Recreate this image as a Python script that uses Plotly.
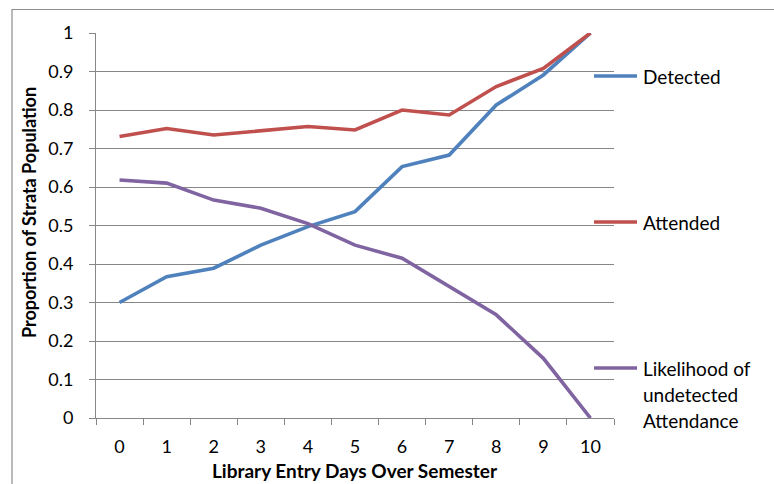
import plotly.graph_objects as go

# Library entry days (categories) and proportion of each stratum
days = [str(d) for d in range(11)]
detected = [0.300, 0.367, 0.389, 0.449, 0.497, 0.536, 0.653, 0.683, 0.813, 0.891, 1.0]
attended = [0.731, 0.752, 0.735, 0.746, 0.757, 0.748, 0.800, 0.787, 0.861, 0.908, 1.0]
likelihood = [0.618, 0.610, 0.566, 0.545, 0.505, 0.449, 0.415, 0.341, 0.268, 0.155, 0.0]

series_names = ["Detected", "Attended", "Likelihood of undetected Attendance"]
legend_lines = [["Detected"], ["Attended"], ["Likelihood of", "undetected", "Attendance"]]
series_colors = ["#4F81BD", "#C0504D", "#8064A2"]
y_ticks = [round(i * 0.1, 1) for i in range(11)]

FONT = "Lato, Carlito, Calibri, sans-serif"
W, H = 774, 484
L, R, T, B = 96, 160, 33, 66
plot_w = W - L - R
plot_h = H - T - B


def px_to_paper_x(px):
    return (px - L) / plot_w


def px_to_paper_y(py):
    return (H - B - py) / plot_h


fig = go.Figure()
for name, vals, col in zip(series_names, [detected, attended, likelihood], series_colors):
    fig.add_trace(go.Scatter(
        x=days, y=vals, mode="lines", name=name,
        line=dict(color=col, width=3.6), showlegend=False,
    ))

# Legend drawn beside the plot, one key per series
legend_y = [76, 222, 368]
line_gap = 26.5
shapes = []
annotations = []
for lines, col, ly in zip(legend_lines, series_colors, legend_y):
    shapes.append(dict(
        type="line", xref="paper", yref="paper",
        x0=px_to_paper_x(594), x1=px_to_paper_x(637),
        y0=px_to_paper_y(ly), y1=px_to_paper_y(ly),
        line=dict(color=col, width=3.6),
    ))
    for i, txt in enumerate(lines):
        annotations.append(dict(
            xref="paper", yref="paper",
            x=px_to_paper_x(641), y=px_to_paper_y(ly + i * line_gap),
            xanchor="left", yanchor="middle", align="left",
            text=txt, showarrow=False,
            font=dict(family=FONT, size=19, color="#000000"),
        ))

# Axis titles
annotations.append(dict(
    xref="paper", yref="paper",
    x=px_to_paper_x(355), y=px_to_paper_y(470),
    xanchor="center", yanchor="middle", showarrow=False,
    text="<b>Library Entry Days Over Semester</b>",
    font=dict(family=FONT, size=19, color="#000000"),
))
annotations.append(dict(
    xref="paper", yref="paper",
    x=px_to_paper_x(29), y=px_to_paper_y(213),
    xanchor="center", yanchor="middle", showarrow=False, textangle=-90,
    text="<b>Proportion of Strata Population</b>",
    font=dict(family=FONT, size=18, color="#000000"),
))

# Chart frame
shapes.append(dict(
    type="rect", xref="paper", yref="paper",
    x0=px_to_paper_x(12), x1=px_to_paper_x(790),
    y0=px_to_paper_y(500), y1=px_to_paper_y(9.5),
    line=dict(color="#8C8C8C", width=1.2), fillcolor="rgba(0,0,0,0)",
    layer="below",
))

fig.update_layout(
    width=W, height=H,
    margin=dict(l=L, r=R, t=T, b=B),
    paper_bgcolor="white", plot_bgcolor="white",
    font=dict(family=FONT, size=18, color="#000000"),
    shapes=shapes, annotations=annotations,
    xaxis=dict(
        type="category", tickson="boundaries",
        ticks="outside", ticklen=6, tickcolor="#878787",
        showline=True, linecolor="#878787", linewidth=1,
        showgrid=False, zeroline=False,
        tickfont=dict(family=FONT, size=18, color="#000000"),
        ticklabelstandoff=12,
        range=[-0.5, 10.5],
    ),
    yaxis=dict(
        range=[0, 1], tickvals=y_ticks,
        ticktext=[("%g" % v) for v in y_ticks],
        ticks="outside", ticklen=6, tickcolor="#878787",
        showline=True, linecolor="#878787", linewidth=1,
        showgrid=True, gridcolor="#878787", gridwidth=1.2,
        zeroline=False,
        tickfont=dict(family=FONT, size=18, color="#000000"),
        ticklabelstandoff=12,
    ),
)

fig.write_html("out.html")
